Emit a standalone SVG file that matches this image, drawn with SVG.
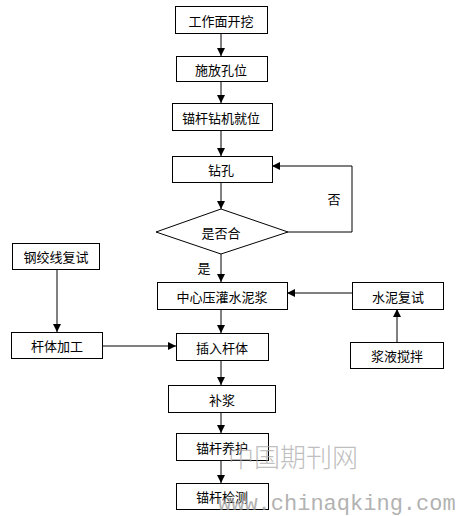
<svg xmlns="http://www.w3.org/2000/svg" width="456" height="516" viewBox="0 0 456 516">
<style>
.box{fill:#fff;stroke:#000;stroke-width:1}
.t{font-family:"Noto Sans CJK SC","Noto Sans",sans-serif;font-size:13px;fill:#000;text-anchor:middle;dominant-baseline:central}
.c{fill:none;stroke:#000;stroke-width:1}
.wm1{font-family:"Noto Sans CJK SC",serif;font-size:26px;fill:#aaa;font-weight:300}
.wm2{font-family:"Liberation Mono",monospace;font-size:22px;fill:#999}
</style>
<defs>
<marker id="ah" viewBox="0 0 10 10" refX="10" refY="5" markerWidth="8" markerHeight="8" markerUnits="userSpaceOnUse" orient="auto">
<path d="M0,0 L10,5 L0,10 z" fill="#000"/>
</marker>
</defs>
<rect width="456" height="516" fill="#fff"/>
<g id="connectors">
<line class="c" x1="221" y1="33" x2="221" y2="56" marker-end="url(#ah)"/>
<line class="c" x1="221" y1="81" x2="221" y2="103" marker-end="url(#ah)"/>
<line class="c" x1="221" y1="130" x2="221" y2="156" marker-end="url(#ah)"/>
<line class="c" x1="221" y1="182" x2="221" y2="209" marker-end="url(#ah)"/>
<polyline class="c" points="288,232 352,232 352,166 272,166" marker-end="url(#ah)"/>
<line class="c" x1="221" y1="254" x2="221" y2="282" marker-end="url(#ah)"/>
<line class="c" x1="221" y1="309" x2="221" y2="333" marker-end="url(#ah)"/>
<line class="c" x1="221" y1="360" x2="221" y2="385" marker-end="url(#ah)"/>
<line class="c" x1="221" y1="412" x2="221" y2="433" marker-end="url(#ah)"/>
<line class="c" x1="221" y1="460" x2="221" y2="483" marker-end="url(#ah)"/>
<line class="c" x1="57" y1="269" x2="57" y2="332" marker-end="url(#ah)"/>
<line class="c" x1="102" y1="346" x2="176" y2="346" stroke="#444" stroke-width="1.4" marker-end="url(#ah)"/>
<line class="c" x1="352" y1="293" x2="287" y2="293" marker-end="url(#ah)"/>
<line class="c" x1="397" y1="342" x2="397" y2="309" marker-end="url(#ah)"/>
<text class="t" x="334" y="198">否</text>
<text class="t" x="204" y="267">是</text>
</g>
<g id="n1"><rect class="box" x="175.5" y="6.5" width="92" height="27"/><text class="t" x="221" y="20">工作面开挖</text></g>
<g id="n2"><rect class="box" x="176.5" y="56.5" width="91" height="25"/><text class="t" x="221" y="69">施放孔位</text></g>
<g id="n3"><rect class="box" x="172.5" y="103.5" width="100" height="27"/><text class="t" x="221" y="117">锚杆钻机就位</text></g>
<g id="n4"><rect class="box" x="172.5" y="156.5" width="100" height="26"/><text class="t" x="221" y="169">钻孔</text></g>
<g id="n5"><polygon class="box" points="156,232 221,209 288,232 221,254"/><text class="t" x="221" y="232">是否合</text></g>
<g id="n6"><rect class="box" x="157.5" y="282.5" width="130" height="27"/><text class="t" x="222" y="296">中心压灌水泥浆</text></g>
<g id="n7"><rect class="box" x="352.5" y="282.5" width="91" height="27"/><text class="t" x="398" y="296">水泥复试</text></g>
<g id="n8"><rect class="box" x="12.5" y="243.5" width="87" height="26"/><text class="t" x="56" y="256">钢绞线复试</text></g>
<g id="n9"><rect class="box" x="11.5" y="332.5" width="91" height="26"/><text class="t" x="57" y="345">杆体加工</text></g>
<g id="n10"><rect class="box" x="176.5" y="333.5" width="92" height="27"/><text class="t" x="222" y="347">插入杆体</text></g>
<g id="n11"><rect class="box" x="350.5" y="342.5" width="93" height="26"/><text class="t" x="397" y="355">浆液搅拌</text></g>
<g id="n12"><rect class="box" x="168.5" y="385.5" width="107" height="27"/><text class="t" x="222" y="399">补浆</text></g>
<g id="n13"><rect class="box" x="176.5" y="433.5" width="92" height="27"/><text class="t" x="222" y="447">锚杆养护</text></g>
<g id="n14"><rect class="box" x="176.5" y="483.5" width="92" height="26"/><text class="t" x="222" y="496">锚杆检测</text></g>
<g id="watermark" opacity="0.75">
<text class="wm1" x="228" y="467">中国期刊网</text>
<text class="wm2" x="218" y="510">www.chinaqking.com</text>
</g>
</svg>
